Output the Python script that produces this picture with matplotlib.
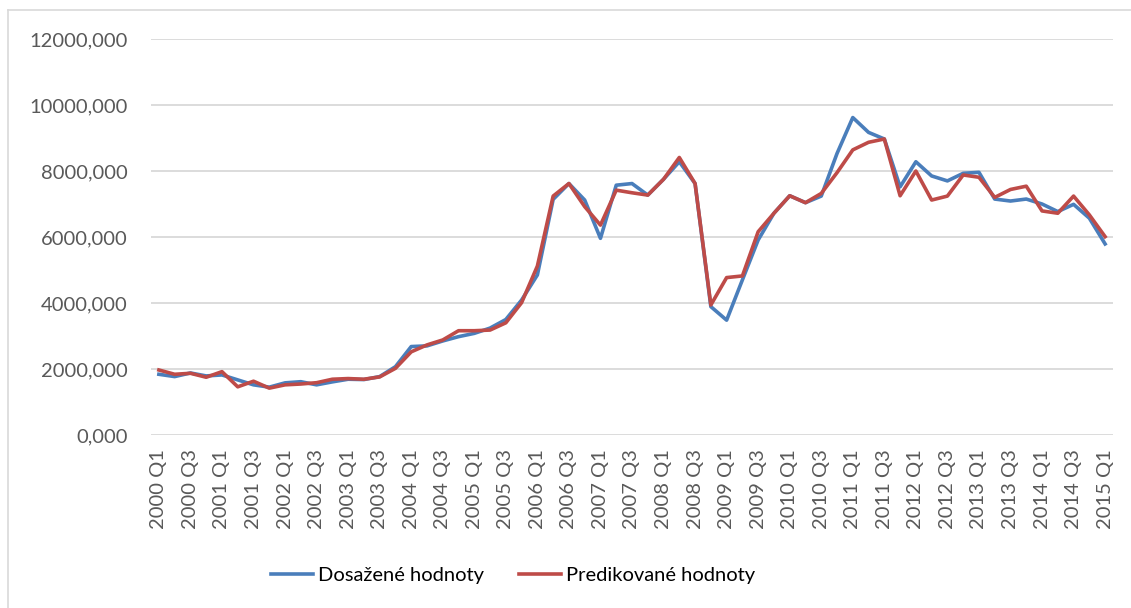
"""
Dosažené vs. predikované hodnoty, quarterly 2000 Q1 - 2015 Q1.
"""
import matplotlib

matplotlib.use("Agg")
import matplotlib.pyplot as plt
from matplotlib.lines import Line2D
from matplotlib.ticker import FuncFormatter, MultipleLocator

years = list(range(2000, 2016))
quarters = [f"{y} Q{q}" for y in years for q in (1, 2, 3, 4)][:61]

actual = [
    1840, 1770, 1880, 1790, 1820, 1670, 1520, 1450, 1580, 1615,
    1520, 1610, 1690, 1680, 1770, 2070, 2680, 2700, 2850, 2980,
    3080, 3240, 3500, 4090, 4850, 7140, 7620, 7120, 5960, 7570,
    7620, 7270, 7750, 8280, 7620, 3890, 3480, 4700, 5910, 6720,
    7250, 7040, 7240, 8530, 9620, 9170, 8970, 7520, 8280, 7850,
    7700, 7930, 7960, 7150, 7090, 7150, 7000, 6770, 6990, 6570,
    5790,
]
predicted = [
    1970, 1840, 1870, 1750, 1920, 1460, 1630, 1420, 1520, 1545,
    1585, 1690, 1710, 1690, 1760, 2020, 2520, 2730, 2880, 3160,
    3160, 3180, 3400, 4010, 5120, 7240, 7620, 6920, 6360, 7420,
    7340, 7270, 7750, 8410, 7620, 3940, 4770, 4820, 6160, 6720,
    7250, 7040, 7320, 7950, 8640, 8870, 8970, 7250, 8000, 7120,
    7240, 7880, 7810, 7200, 7440, 7540, 6790, 6720, 7240, 6670,
    6010,
]

BLUE = "#4A7EBB"
RED = "#BE4B48"
GRID = "#D9D9D9"
TICK = "#595959"

plt.rcParams["font.family"] = ["Lato", "DejaVu Sans"]

W, H = 1131, 608
fig = plt.figure(figsize=(W / 100, H / 100), dpi=100)
fig.patch.set_facecolor("white")

# chart area border (cropped at right/bottom in the source)
fig.add_artist(Line2D([8 / W, 8 / W], [0, 1 - 10 / H], color=GRID, lw=1.2))
fig.add_artist(Line2D([8 / W, 1], [1 - 10 / H, 1 - 10 / H], color=GRID, lw=1.2))

ax = fig.add_axes([151 / W, 1 - 435 / H, (1113 - 151) / W, (435 - 39) / H])
x = list(range(len(quarters)))
ax.plot(x, actual, color=BLUE, lw=2.6, solid_joinstyle="round", label="Dosažené hodnoty")
ax.plot(x, predicted, color=RED, lw=2.6, solid_joinstyle="round", label="Predikované hodnoty")

ax.set_xlim(-0.5, len(quarters) - 0.5)
ax.set_ylim(0, 12000)
ax.yaxis.set_major_locator(MultipleLocator(2000))
ax.yaxis.set_major_formatter(FuncFormatter(lambda v, p: f"{v:.3f}".replace(".", ",")))
ax.set_xticks(x[::2])
ax.set_xticklabels(quarters[::2], rotation=90)

ax.grid(axis="y", color=GRID, lw=1.3)
ax.set_axisbelow(True)
for s in ax.spines.values():
    s.set_visible(False)
ax.tick_params(axis="both", length=0, colors=TICK, labelsize=14.5)
ax.tick_params(axis="y", pad=17)
ax.tick_params(axis="x", pad=10)

fig.legend(
    loc="center",
    bbox_to_anchor=(513 / W, 1 - 575 / H),
    ncol=2,
    frameon=False,
    fontsize=14.5,
    labelcolor="black",
    handlelength=2.1,
    handletextpad=0.25,
    columnspacing=1.7,
)

fig.savefig("out.png", dpi=100, facecolor="white")
